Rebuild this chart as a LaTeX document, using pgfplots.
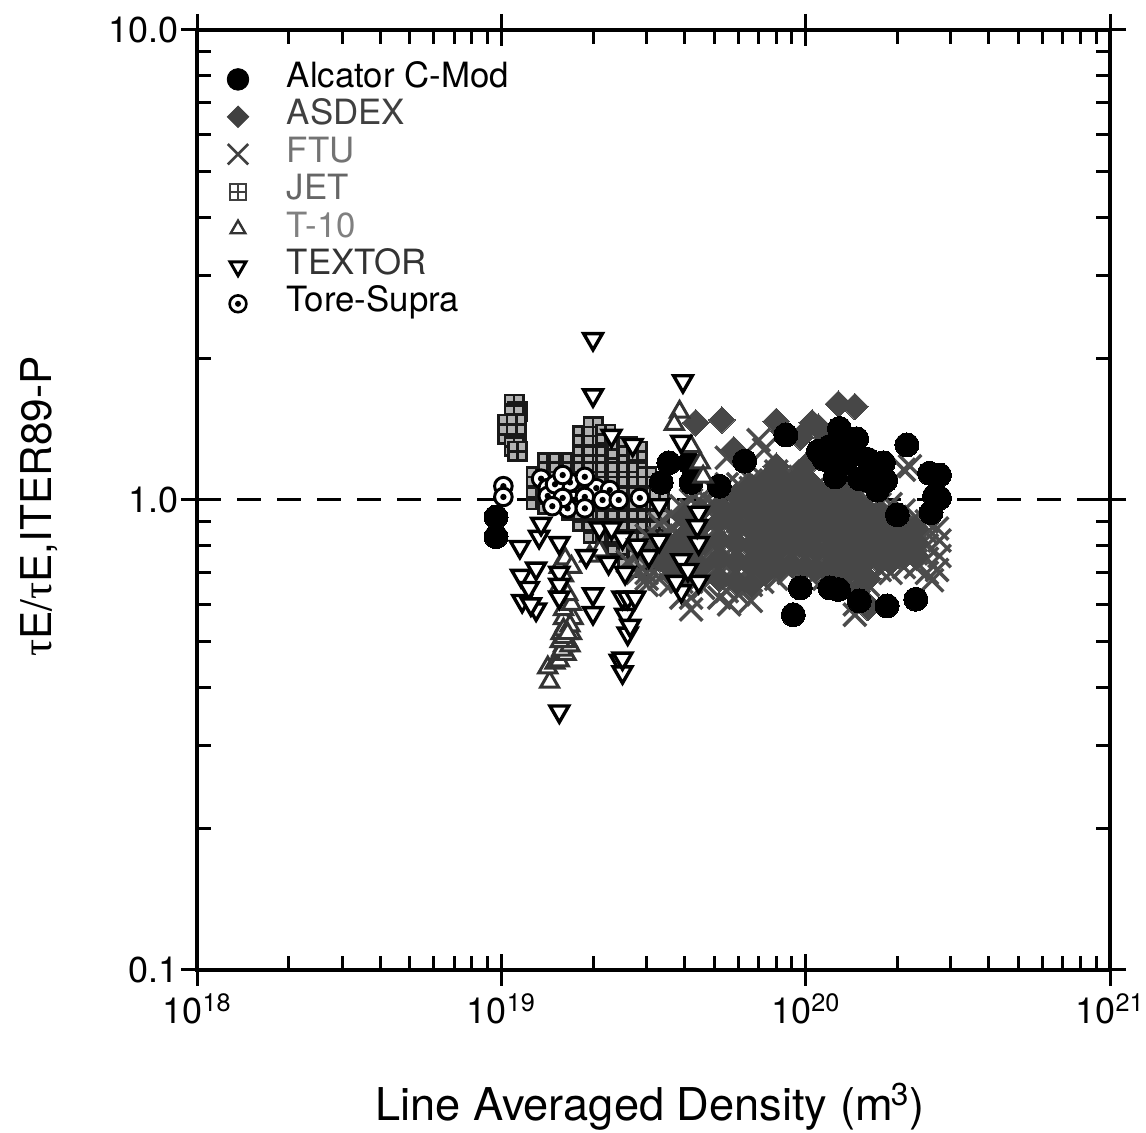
\documentclass[border=0pt]{standalone}
\usepackage{pgfplots}
\pgfplotsset{compat=1.18}
\usepackage{fontspec}
\setmainfont{TeX Gyre Heros}
\newfontfamily\taufont{Liberation Serif}
\pgfdeclareplotmark{tore}{%
  \pgfpathcircle{\pgfpointorigin}{\pgfplotmarksize}\pgfusepathqfillstroke
  \begin{pgfscope}\pgfsetfillcolor{black}%
  \pgfpathcircle{\pgfpointorigin}{0.36\pgfplotmarksize}\pgfusepathqfill\end{pgfscope}}
\pgfdeclareplotmark{jet}{%
  \pgfpathrectangle{\pgfpoint{-\pgfplotmarksize}{-\pgfplotmarksize}}{\pgfpoint{2\pgfplotmarksize}{2\pgfplotmarksize}}\pgfusepathqfillstroke
  \pgfpathmoveto{\pgfpoint{-\pgfplotmarksize}{0pt}}\pgfpathlineto{\pgfpoint{\pgfplotmarksize}{0pt}}
  \pgfpathmoveto{\pgfpoint{0pt}{-\pgfplotmarksize}}\pgfpathlineto{\pgfpoint{0pt}{\pgfplotmarksize}}\pgfusepathqstroke}
\tikzset{
  alc/.style={only marks,mark=*,mark size=6pt,mark options={draw=black,fill=black,line width=0pt}},
  asd/.style={only marks,mark=square*,mark size=4.7pt,mark options={rotate=45,draw=black!72,fill=black!72,line width=0pt}},
  ftu/.style={only marks,mark=x,mark size=8pt,mark options={draw=black!70,line width=1.7pt}},
  jett/.style={only marks,mark=jet,mark size=4.6pt,mark options={draw=black!90,fill=black!30,line width=1.3pt}},
  t10/.style={only marks,mark=triangle*,mark size=5.2pt,mark options={draw=black!80,fill=white,line width=1.5pt}},
  txt/.style={only marks,mark=triangle*,mark size=5.4pt,mark options={rotate=180,draw=black,fill=white,line width=1.7pt}},
  tor/.style={only marks,mark=tore,mark size=4.4pt,mark options={draw=black,fill=white,line width=1.5pt}},
}
\begin{document}
\begin{tikzpicture}
\path[use as bounding box] (-98.5pt,-81.5pt) rectangle (474.5pt,485pt);
% major ticks, labels
\begin{axis}[scale only axis,width=456.5pt,height=470pt,xmode=log,ymode=log,
  xmin=1e18,xmax=1e21,ymin=0.1,ymax=10,axis line style={line width=1.9pt},clip=false,
  tick align=center,major tick length=16pt,minor tick length=0pt,
  every tick/.style={line width=1.5pt,black},
  xtick={1e18,1e19,1e20,1e21},ytick={0.1,1,10},
  xticklabels={10\textsuperscript{18},10\textsuperscript{19},10\textsuperscript{20},10\textsuperscript{21}},
  yticklabels={0.1,1.0,10.0},
  xticklabel style={font=\fontsize{18}{20}\selectfont,inner sep=0pt,yshift=-3.5pt},
  yticklabel style={font=\fontsize{18}{20}\selectfont,inner sep=0pt,xshift=-1pt},
  xlabel={Line Averaged Density (m\kern-1pt\textsuperscript{3})},
  xlabel style={font=\fontsize{22.6}{24}\selectfont,at={(axis description cs:0.496,-0.16)},anchor=base},
  ylabel={{\taufont τ}E/{\taufont τ}E,ITER89-P},
  ylabel style={font=\fontsize{21.2}{24}\selectfont,at={(axis description cs:-0.159,0.493)},anchor=base},
]
\addplot[draw=none,forget plot] coordinates {(1e18,1)};
\end{axis}
% minor ticks, data
\begin{axis}[scale only axis,width=456.5pt,height=470pt,xmode=log,ymode=log,
  xmin=1e18,xmax=1e21,ymin=0.1,ymax=10,axis line style={line width=1.9pt},clip=false,
  tick align=inside,minor tick length=7pt,major tick length=0pt,
  minor tick style={line width=1.5pt,black},
  xtick={1e18,1e19,1e20,1e21},ytick={0.1,1,10},
  xticklabels={},yticklabels={},
  legend style={at={(rel axis cs:0.026,0.972)},anchor=north west,draw=none,fill=none,
    font=\fontsize{17.4}{18}\selectfont,row sep=0pt,
    nodes={inner sep=0pt,text height=13.4pt,text depth=5.3pt}},
  legend cell align=left,
  /tikz/every odd column/.append style={column sep=19pt},
]
\addlegendimage{only marks,mark=*,mark size=5.4pt,mark options={draw=black,fill=black}}
\addlegendentry{Alcator C-Mod}
\addlegendimage{only marks,mark=square*,mark size=3.8pt,mark options={rotate=45,draw=black!75,fill=black!75}}
\addlegendentry{\textcolor{black!75}{ASDEX}}
\addlegendimage{only marks,mark=x,mark size=7.2pt,mark options={draw=black!75,line width=1.3pt}}
\addlegendentry{\textcolor{black!55}{FTU}}
\addlegendimage{only marks,mark=jet,mark size=4pt,mark options={draw=black!75,fill=white,line width=1pt}}
\addlegendentry{\textcolor{black!60}{JET}}
\addlegendimage{only marks,mark=triangle*,mark size=4.2pt,mark options={draw=black!80,fill=white,line width=1.2pt}}
\addlegendentry{\textcolor{black!50}{T-10}}
\addlegendimage{only marks,mark=triangle*,mark size=4.6pt,mark options={rotate=180,draw=black,fill=white,line width=1.5pt}}
\addlegendentry{\textcolor{black!80}{TEXTOR}}
\addlegendimage{only marks,mark=tore,mark size=4.2pt,mark options={draw=black,fill=white,line width=1.3pt}}
\addlegendentry{Tore-Supra}
% dashed unity line
\addplot[forget plot,black,line width=1.5pt,dash pattern=on 12pt off 8pt] coordinates {(1e18,1) (1e21,1)};
% JET
\addplot[forget plot,jett] coordinates {
(1.1e19,1.6)(1.13e19,1.54)(1.1e19,1.52)(1.05e19,1.45)(1.12e19,1.45)(1.05e19,1.38)(1.12e19,1.38)(1.1e19,1.3)(1.13e19,1.27)
(1.3e19,1.0)(1.3e19,1.06)(1.3e19,1.12)
(1.42e19,0.98)(1.42e19,1.05)(1.42e19,1.12)(1.42e19,1.2)
(1.55e19,1.0)(1.55e19,1.06)(1.55e19,1.12)(1.55e19,1.2)
(1.7e19,0.95)(1.7e19,1.0)(1.7e19,1.06)(1.7e19,1.12)(1.7e19,1.2)
(1.85e19,0.9)(1.85e19,0.95)(1.85e19,1.0)(1.85e19,1.06)(1.85e19,1.12)(1.85e19,1.2)(1.85e19,1.3)(1.85e19,1.37)
(2.0e19,0.85)(2.0e19,0.9)(2.0e19,0.95)(2.0e19,1.0)(2.0e19,1.06)(2.0e19,1.12)(2.0e19,1.2)(2.0e19,1.3)(2.0e19,1.37)(2.0e19,1.43)
(2.2e19,0.8)(2.2e19,0.85)(2.2e19,0.9)(2.2e19,0.95)(2.2e19,1.0)(2.2e19,1.06)(2.2e19,1.12)(2.2e19,1.2)(2.2e19,1.3)(2.2e19,1.38)
(2.4e19,0.8)(2.4e19,0.85)(2.4e19,0.9)(2.4e19,0.95)(2.4e19,1.0)(2.4e19,1.06)(2.4e19,1.12)(2.4e19,1.2)(2.4e19,1.28)
(2.6e19,0.75)(2.6e19,0.8)(2.6e19,0.85)(2.6e19,0.9)(2.6e19,0.95)(2.6e19,1.0)(2.6e19,1.06)(2.6e19,1.12)(2.6e19,1.2)(2.6e19,1.3)
(2.8e19,0.72)(2.8e19,0.78)(2.8e19,0.85)(2.8e19,0.9)(2.8e19,0.95)(2.8e19,1.0)(2.8e19,1.06)(2.8e19,1.12)(2.8e19,1.2)(2.8e19,1.27)
(3.0e19,0.75)(3.0e19,0.8)(3.0e19,0.85)(3.0e19,0.9)(3.0e19,0.95)(3.0e19,1.0)(3.0e19,1.06)(3.0e19,1.12)
(3.3e19,0.85)(3.3e19,0.9)(3.3e19,0.95)(3.3e19,1.0)(3.3e19,1.05)
};
% FTU
\addplot[forget plot,ftu] coordinates {
(2.6e19,0.74)(2.8e19,0.70)(2.8e19,0.76)(3.0e19,0.66)(3.0e19,0.70)
(3.0e19,0.68)(3.0e19,0.73)(3.0e19,0.78)(3.0e19,0.84)
(3.3e19,0.68)(3.3e19,0.72)(3.3e19,0.77)(3.3e19,0.83)(3.3e19,0.89)
(3.6e19,0.66)(3.6e19,0.71)(3.6e19,0.76)(3.6e19,0.81)(3.6e19,0.87)(3.6e19,0.93)
(3.9e19,0.62)(3.9e19,0.67)(3.9e19,0.73)(3.9e19,0.78)(3.9e19,0.84)(3.9e19,0.90)(3.9e19,0.97)
(4.2e19,0.585)(4.2e19,0.62)(4.2e19,0.67)(4.2e19,0.72)(4.2e19,0.77)(4.2e19,0.83)(4.2e19,0.89)(4.2e19,0.95)(4.2e19,1.0)
(4.6e19,0.65)(4.6e19,0.70)(4.6e19,0.75)(4.6e19,0.80)(4.6e19,0.86)(4.6e19,0.92)(4.6e19,0.98)(4.6e19,1.02)
(5.0e19,0.71)(5.0e19,0.76)(5.0e19,0.81)(5.0e19,0.86)(5.0e19,0.92)(5.0e19,0.98)(5.0e19,1.05)
(5.2e19,0.62)(5.6e19,0.60)(5.5e19,0.64)(5.5e19,0.72)(5.5e19,0.77)(5.5e19,0.83)(5.5e19,0.89)(5.5e19,0.95)(5.5e19,1.02)(5.5e19,1.08)(5.5e19,1.23)
(6.0e19,0.63)(6.0e19,0.68)(6.0e19,0.73)(6.0e19,0.78)(6.0e19,0.84)(6.0e19,0.90)(6.0e19,0.96)(6.0e19,1.02)(6.0e19,1.08)
(6.6e19,0.61)(6.6e19,0.66)(6.6e19,0.71)(6.6e19,0.76)(6.6e19,0.82)(6.6e19,0.88)(6.6e19,0.94)(6.6e19,1.0)(6.6e19,1.06)(6.6e19,1.10)
(7.2e19,0.67)(7.2e19,0.72)(7.2e19,0.77)(7.2e19,0.83)(7.2e19,0.89)(7.2e19,0.95)(7.2e19,1.01)(7.2e19,1.07)(7.2e19,1.12)(7.0e19,1.34)(7.3e19,1.28)
(8.0e19,0.68)(8.0e19,0.73)(8.0e19,0.78)(8.0e19,0.84)(8.0e19,0.90)(8.0e19,0.96)(8.0e19,1.02)(8.0e19,1.08)(8.0e19,1.15)
(8.8e19,0.70)(8.8e19,0.75)(8.8e19,0.80)(8.8e19,0.86)(8.8e19,0.92)(8.8e19,0.98)(8.8e19,1.04)(8.8e19,1.10)(8.8e19,1.15)
(9.6e19,0.68)(9.6e19,0.73)(9.6e19,0.78)(9.6e19,0.84)(9.6e19,0.90)(9.6e19,0.96)(9.6e19,1.02)(9.6e19,1.08)(9.6e19,1.12)
(1.05e20,0.68)(1.05e20,0.73)(1.05e20,0.78)(1.05e20,0.83)(1.05e20,0.89)(1.05e20,0.95)(1.05e20,1.01)(1.05e20,1.05)
(1.15e20,0.68)(1.15e20,0.72)(1.15e20,0.77)(1.15e20,0.82)(1.15e20,0.88)(1.15e20,0.94)(1.15e20,1.0)
(1.25e20,0.66)(1.25e20,0.71)(1.25e20,0.76)(1.25e20,0.81)(1.25e20,0.87)(1.25e20,0.93)(1.25e20,0.99)(1.25e20,1.05)
(1.35e20,0.66)(1.35e20,0.71)(1.35e20,0.76)(1.35e20,0.81)(1.35e20,0.87)(1.35e20,0.93)(1.35e20,0.99)(1.35e20,1.05)
(1.45e20,0.57)(1.45e20,0.60)(1.45e20,0.65)(1.45e20,0.71)(1.45e20,0.76)(1.45e20,0.82)(1.45e20,0.88)(1.45e20,0.94)(1.45e20,1.0)(1.45e20,1.05)
(1.6e20,0.66)(1.6e20,0.71)(1.6e20,0.76)(1.6e20,0.81)(1.6e20,0.87)(1.6e20,0.93)(1.6e20,1.0)
(1.75e20,0.71)(1.75e20,0.76)(1.75e20,0.81)(1.75e20,0.86)(1.75e20,0.92)(1.75e20,0.98)(1.75e20,1.0)
(1.9e20,0.70)(1.9e20,0.75)(1.9e20,0.80)(1.9e20,0.85)(1.9e20,0.91)(1.9e20,0.98)
(2.1e20,0.72)(2.1e20,0.77)(2.1e20,0.82)(2.1e20,0.88)(2.1e20,0.95)(2.2e20,1.18)(2.1e20,1.16)
(2.3e20,0.72)(2.3e20,0.77)(2.3e20,0.82)(2.3e20,0.87)(2.3e20,0.92)
(2.5e20,0.70)(2.5e20,0.75)(2.5e20,0.80)(2.5e20,0.85)(2.5e20,0.90)
(2.6e20,0.675)(2.75e20,0.76)(2.75e20,0.82)(2.7e20,0.87)(2.7e20,0.71)
};
% ASDEX
\addplot[forget plot,asd] coordinates {
(4.35e19,1.46)(5.3e19,1.48)(5.8e19,1.28)(8.0e19,1.47)(8.5e19,1.40)(9.6e19,1.36)
(1.05e20,1.46)(1.1e20,1.43)(1.28e20,1.60)(1.45e20,1.58)(1.17e20,1.36)(1.25e20,1.33)(1.12e20,1.27)
(1.0e20,1.18)(1.2e20,1.2)(1.35e20,1.14)(8.0e19,1.18)(6.8e19,1.05)(1.45e20,1.08)(1.6e20,0.59)(1.55e20,0.61)
(9.3e19,1.1)(1.05e20,1.08)(1.3e20,1.05)
(3.3e19,0.75)(3.6e19,0.72)(3.6e19,0.80)(4.0e19,0.68)(4.0e19,0.76)(4.0e19,0.84)(4.0e19,0.92)
(4.5e19,0.72)(4.5e19,0.80)(4.5e19,0.88)(4.5e19,0.95)
(5.2e19,0.68)(5.2e19,0.75)(5.2e19,0.82)(5.2e19,0.90)(5.2e19,0.97)
(5.9e19,0.67)(5.9e19,0.74)(5.9e19,0.81)(5.9e19,0.88)(5.9e19,0.95)(5.9e19,1.02)
(6.6e19,0.66)(6.6e19,0.73)(6.6e19,0.80)(6.6e19,0.87)(6.6e19,0.94)(6.6e19,1.01)(6.6e19,1.07)
(7.4e19,0.70)(7.4e19,0.77)(7.4e19,0.84)(7.4e19,0.91)(7.4e19,0.98)(7.4e19,1.05)(7.4e19,1.10)
(8.2e19,0.72)(8.2e19,0.79)(8.2e19,0.86)(8.2e19,0.93)(8.2e19,1.0)(8.2e19,1.07)(8.2e19,1.12)
(9.0e19,0.73)(9.0e19,0.80)(9.0e19,0.87)(9.0e19,0.94)(9.0e19,1.01)(9.0e19,1.08)
(9.9e19,0.72)(9.9e19,0.79)(9.9e19,0.86)(9.9e19,0.93)(9.9e19,1.0)(9.9e19,1.06)
(1.08e20,0.71)(1.08e20,0.78)(1.08e20,0.85)(1.08e20,0.92)(1.08e20,0.98)(1.08e20,1.03)
(1.18e20,0.71)(1.18e20,0.78)(1.18e20,0.85)(1.18e20,0.92)(1.18e20,0.98)(1.18e20,1.03)
(1.28e20,0.69)(1.28e20,0.76)(1.28e20,0.83)(1.28e20,0.90)(1.28e20,0.97)(1.28e20,1.03)
(1.38e20,0.70)(1.38e20,0.77)(1.38e20,0.84)(1.38e20,0.91)(1.38e20,0.98)(1.38e20,1.02)
(1.48e20,0.64)(1.48e20,0.71)(1.48e20,0.78)(1.48e20,0.85)(1.48e20,0.92)(1.48e20,0.98)
(1.6e20,0.68)(1.6e20,0.75)(1.6e20,0.82)(1.6e20,0.89)(1.6e20,0.95)
(1.75e20,0.74)(1.75e20,0.81)(1.75e20,0.88)(1.75e20,0.94)
(1.9e20,0.74)(1.9e20,0.80)(1.9e20,0.86)(1.9e20,0.92)
(2.1e20,0.76)(2.1e20,0.82)(2.1e20,0.88)
(2.3e20,0.76)(2.3e20,0.81)(2.3e20,0.87)
};
% Alcator
\addplot[forget plot,alc] coordinates {
(0.96e19,0.92)(0.96e19,0.835)(3.55e19,1.2)(4.15e19,1.2)(4.2e19,1.09)(3.35e19,1.09)
(6.3e19,1.21)(5.2e19,1.07)(8.6e19,1.375)(1.29e20,1.42)(1.47e20,1.35)(1.15e20,1.22)
(1.23e20,1.24)(1.1e20,1.27)(1.3e20,1.3)(1.35e20,1.2)(1.6e20,1.22)(1.8e20,1.2)(1.83e20,1.1)
(1.5e20,1.11)(1.6e20,1.1)(2.15e20,1.31)(2.55e20,1.14)(2.75e20,1.13)(2.65e20,1.02)(2.75e20,1.01)
(2.58e20,0.94)(9.1e19,0.57)(1.85e20,0.595)(2.3e20,0.615)(1.5e20,0.61)(1.2e20,0.65)(1.28e20,0.645)(9.6e19,0.65)
(1.72e20,1.05)(1.4e20,1.3)(1.2e20,1.3)(1.25e20,1.12)(2.0e20,0.93)
};
% T-10
\addplot[forget plot,t10] coordinates {
(1.44e19,0.41)(1.42e19,0.44)(1.5e19,0.45)(1.55e19,0.455)(1.6e19,0.47)(1.63e19,0.47)(1.6e19,0.49)(1.65e19,0.5)
(1.58e19,0.48)(1.68e19,0.49)(1.62e19,0.5)(1.56e19,0.5)(1.7e19,0.52)(1.57e19,0.52)(1.62e19,0.54)(1.72e19,0.56)(1.6e19,0.56)
(1.6e19,0.51)(1.6e19,0.53)(1.68e19,0.54)(1.65e19,0.52)(1.6e19,0.585)(1.7e19,0.6)(1.55e19,0.655)(1.65e19,0.63)
(1.6e19,0.69)(1.55e19,0.72)(1.62e19,0.75)(1.7e19,0.72)(1.95e19,0.76)(2.1e19,0.78)(3.85e19,1.54)(3.7e19,1.45)
(4.2e19,1.3)(4.5e19,1.2)(4.6e19,1.12)
};
% TEXTOR
\addplot[forget plot,txt] coordinates {
(2.0e19,2.2)(2.0e19,1.67)(3.95e19,1.79)(3.9e19,1.33)(1.55e19,0.355)(1.15e19,0.795)(1.33e19,0.835)(1.35e19,0.89)
(1.16e19,0.69)(1.3e19,0.715)(1.17e19,0.61)(1.3e19,0.585)(1.23e19,0.65)(1.25e19,0.6)(1.55e19,0.81)(1.55e19,0.7)(1.55e19,0.66)(1.55e19,0.62)
(2.0e19,0.63)(2.0e19,0.575)(2.55e19,0.57)(2.6e19,0.52)(2.65e19,0.54)(2.45e19,0.455)(2.5e19,0.43)(2.5e19,0.46)
(2.55e19,0.7)(2.5e19,0.62)(2.6e19,0.62)(2.75e19,0.62)(2.25e19,0.735)(2.7e19,1.31)(2.3e19,1.37)
(2.1e19,0.87)(2.5e19,0.83)(2.3e19,0.87)(3.3e19,0.975)(3.3e19,0.82)(3.05e19,0.76)(3.9e19,0.745)(4.45e19,0.81)
(4.45e19,0.94)(3.9e19,0.64)(3.75e19,0.67)(4.45e19,0.67)(4.1e19,0.71)(2.8e19,0.8)(1.9e19,0.76)(4.4e19,0.88)
};
% Tore-Supra
\addplot[forget plot,tor] coordinates {
(1.015e19,1.07)(1.015e19,1.015)(1.35e19,1.11)(1.42e19,1.06)(1.42e19,1.02)(1.68e19,1.09)(1.73e19,1.0)(1.65e19,0.96)(2.05e19,1.06)
(2.27e19,1.05)(1.5e19,1.08)(1.59e19,1.13)(1.88e19,1.12)(1.59e19,1.01)(1.47e19,0.97)(1.88e19,1.015)(1.88e19,0.96)(2.15e19,1.0)(2.43e19,1.0)(2.85e19,1.01)
};
\end{axis}
\end{tikzpicture}
\end{document}
